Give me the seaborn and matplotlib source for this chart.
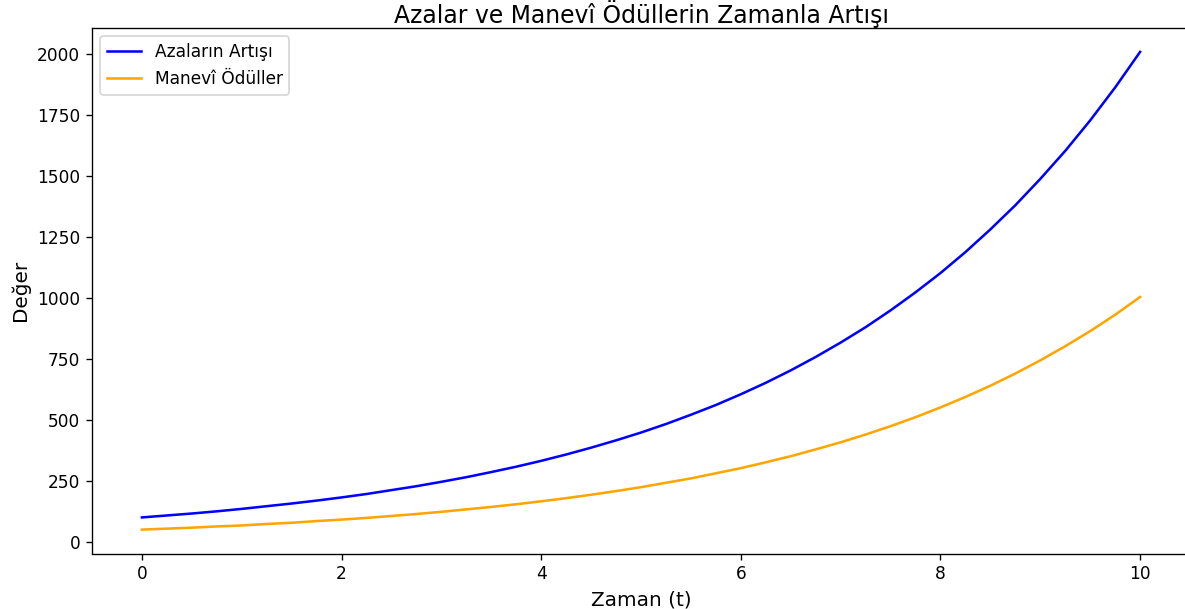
import matplotlib
matplotlib.use("Agg")
import matplotlib.pyplot as plt
import seaborn as sns
import pandas as pd

# --- Data ---
time_t = [0, 0.25, 0.5, 0.75, 1, 1.25, 1.5, 1.75, 2, 2.25, 2.5,
          2.75, 3, 3.25, 3.5, 3.75, 4, 4.25, 4.5, 4.75, 5,
          5.25, 5.5, 5.75, 6, 6.25, 6.5, 6.75, 7, 7.25, 7.5,
          7.75, 8, 8.25, 8.5, 8.75, 9, 9.25, 9.5, 9.75, 10]
azalar = [100, 108, 116, 125, 135, 146, 157, 169, 182, 196, 212,
          228, 246, 265, 286, 308, 332, 358, 386, 416, 448,
          483, 521, 561, 605, 652, 703, 758, 817, 880, 949,
          1023, 1102, 1188, 1281, 1380, 1488, 1603, 1728, 1863, 2009]
manevi = [50, 54, 58, 63, 67, 73, 78, 85, 91, 98, 106,
          114, 123, 133, 143, 154, 166, 179, 193, 208, 224,
          242, 260, 281, 302, 326, 351, 379, 408, 440, 474,
          511, 551, 594, 640, 690, 744, 802, 864, 931, 1004]

df = pd.DataFrame({"t": time_t, "azalar": azalar, "manevi": manevi})

plt.rcParams['font.family'] = ['DejaVu Sans']

DPI = 122
fig = plt.figure(figsize=(1185 / DPI, 609 / DPI), dpi=DPI)
ax = fig.add_axes([92 / 1185, 1 - 553.5 / 609, 1098 / 1185, (553.5 - 28) / 609])

sns.lineplot(data=df, x="t", y="azalar", color="blue", label="Azaların Artışı", ax=ax)
sns.lineplot(data=df, x="t", y="manevi", color="orange", label="Manevî Ödüller", ax=ax)

ax.set_title("Azalar ve Manevî Ödüllerin Zamanla Artışı", fontsize=13.9, pad=3)
ax.set_xlabel("Zaman (t)", fontsize=11.8)
ax.set_ylabel("Değer", fontsize=11.8)
ax.legend(loc="upper left")

fig.savefig("out.png", dpi=DPI)
